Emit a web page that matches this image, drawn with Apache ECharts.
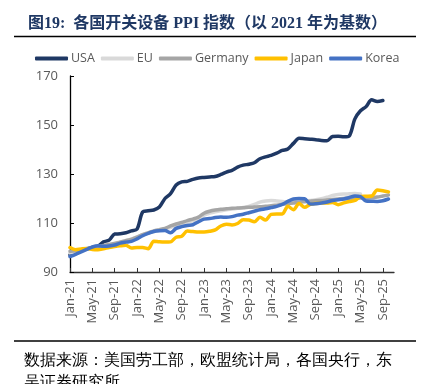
<!DOCTYPE html>
<html><head><meta charset="utf-8">
<script src="https://cdn.jsdelivr.net/npm/echarts@6/dist/echarts.min.js"></script>
<style>html,body{margin:0;padding:0;background:#fff}#c{width:431px;height:384px}</style>
</head><body><div id="c"></div>
<script>
const months = ['Jan','Feb','Mar','Apr','May','Jun','Jul','Aug','Sep','Oct','Nov','Dec'];
const categories = [];
for (let y = 21; y <= 25; y++) for (let m = 0; m < 12; m++) { if (y === 25 && m > 10) break; categories.push(months[m] + '-' + y); }

const usa = [97.0,97.8,98.8,99.5,100.0,100.5,102.3,103.0,105.5,105.6,106.0,106.8,107.5,114.5,115.0,115.3,116.5,120.0,122.0,125.5,126.8,127.0,127.8,128.4,128.6,128.8,129.0,129.8,130.8,131.5,132.8,133.6,134.0,134.6,136.2,137.0,137.6,138.5,139.6,140.2,142.5,144.6,144.4,144.2,144.0,143.7,143.6,145.3,145.4,145.2,145.6,152.5,155.8,157.5,160.3,159.6,160.0];
const eu = [97.8,98.3,98.8,99.3,99.8,100.3,100.7,101.2,101.7,102.3,102.9,103.5,104.3,105.2,105.9,106.5,107.0,107.5,108.2,109.0,109.6,110.3,110.9,111.6,113.2,114.0,114.6,115.0,115.4,115.7,116.0,116.3,116.8,117.6,118.5,119.0,119.2,119.0,118.8,118.6,118.7,118.9,119.0,119.2,119.5,119.9,120.5,121.2,121.6,121.8,121.9,122.0,121.8];
const germany = [98.5,98.7,99.0,99.5,100.0,100.4,100.8,101.2,101.6,102.2,102.8,103.3,104.2,105.3,106.0,106.8,107.3,107.8,108.8,109.6,110.2,111.0,111.6,112.4,114.0,114.8,115.3,115.6,115.8,116.0,116.1,116.2,116.4,116.5,116.6,116.8,117.0,117.3,117.6,117.9,118.2,118.5,118.7,118.9,119.1,119.2,119.4,119.6,119.8,120.0,120.1,120.2,120.2,120.2,120.3,120.6,121.0,121.4];
const japan = [100.0,99.1,99.4,99.6,99.2,99.1,99.5,100.0,100.4,100.7,100.9,99.8,100.0,100.0,99.5,102.6,102.3,102.2,102.3,104.2,104.6,106.7,106.5,106.3,106.3,106.6,107.2,108.8,109.5,109.2,109.8,111.3,111.2,110.5,112.3,111.2,113.5,113.7,113.7,116.8,115.4,118.0,116.4,117.6,118.0,118.2,118.2,118.4,117.5,118.2,118.8,119.2,120.8,120.9,121.0,123.5,123.2,122.7];
const korea = [96.3,97.2,98.2,99.2,100.2,100.7,100.5,100.6,101.0,101.8,102.2,102.5,103.5,104.8,105.8,106.5,106.8,106.9,106.0,107.8,108.5,109.0,109.3,110.5,111.6,111.8,112.2,112.4,112.3,112.6,113.2,113.6,114.2,114.8,115.4,115.8,116.3,116.8,117.6,118.8,119.8,120.0,119.9,117.8,117.9,118.2,118.6,119.2,119.5,119.8,120.4,121.0,120.8,119.0,118.9,118.8,119.1,119.8];
const seriesNames = ['USA','EU','Germany','Japan','Korea'];
const seriesData = [usa, eu, germany, japan, korea];
const colors = ['#1F3864','#D9D9D9','#A5A5A5','#FFC000','#4472C4'];

const chart = echarts.init(document.getElementById('c'), null, {renderer:'canvas'});
const labelFont = 'Open Sans, DejaVu Sans, sans-serif';
chart.setOption({
  animation: false,
  backgroundColor: '#fff',
  title: {
    text: '图19:  各国开关设备 PPI 指数（以 2021 年为基数）',
    left: 23, top: 11,
    textStyle: {fontSize: 16, fontWeight: 'bold', color: '#1F3864', fontFamily: 'Liberation Serif, Noto Sans CJK SC, serif'}
  },
  graphic: [
    {type:'line', shape:{x1:14,y1:36.5,x2:416,y2:36.5}, style:{stroke:'#000', lineWidth:1.3}},
    {type:'line', shape:{x1:14,y1:341,x2:416,y2:341}, style:{stroke:'#000', lineWidth:1.3}},
    {type:'text', left:24, top:353, style:{text:'数据来源：美国劳工部，欧盟统计局，各国央行，东', fontSize:16, fill:'#000', font:'16px Noto Sans CJK SC'}},
    {type:'text', left:24, top:375, style:{text:'吴证券研究所', fontSize:16, fill:'#000', font:'16px Noto Sans CJK SC'}}
  ],
  legend: {
    data: seriesNames,
    left: 30, top: 47,
    icon: 'roundRect',
    itemWidth: 33, itemHeight: 4, itemGap: 6,
    textStyle: {fontSize: 12.5, color: '#595959', fontFamily: labelFont, padding:[0,0,0,-2]}
  },
  grid: {left: 70, right: 37, top: 76, bottom: 112, containLabel: false},
  xAxis: {
    type: 'category', data: categories, boundaryGap: false,
    axisLine: {lineStyle: {color: '#333', width: 1.3}},
    axisTick: {inside: true, length: 4, interval: 3, lineStyle: {color: '#333'}},
    axisLabel: {interval: 3, rotate: 90, fontSize: 13, color: '#595959', fontFamily: labelFont, margin: 7},
    splitLine: {show: false}
  },
  yAxis: {
    type: 'value', min: 90, max: 170, interval: 20,
    axisLine: {show: true, lineStyle: {color: '#000', width: 1.3}},
    axisTick: {show: true, inside: true, length: 4, lineStyle: {color: '#000'}},
    axisLabel: {fontSize: 13, color: '#595959', fontFamily: labelFont, margin: 12},
    splitLine: {show: false}
  },
  series: seriesNames.map((n, k) => ({
    name: n, type: 'line', data: seriesData[k], showSymbol: false, symbol: 'none',
    smooth: 0.3, color: colors[k],
    lineStyle: {width: 3.5, color: colors[k], cap: 'round', join: 'round'}
  }))
});
</script></body></html>
